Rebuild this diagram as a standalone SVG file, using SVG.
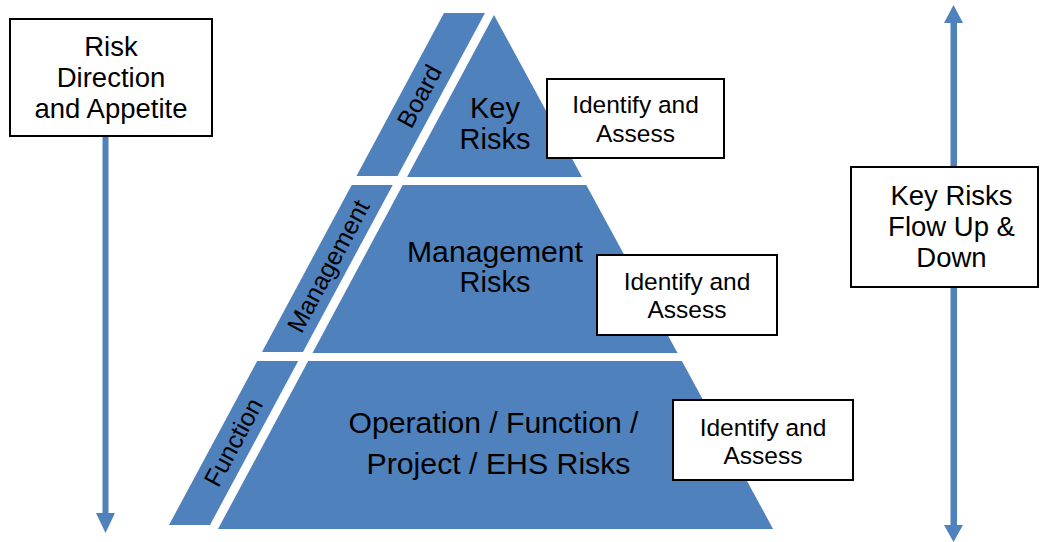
<svg xmlns="http://www.w3.org/2000/svg" width="1044" height="542" viewBox="0 0 1044 542">
  <defs>
    <style>
      .band { fill: #4F81BD; }
      .box { fill: #FFFFFF; stroke: #000000; stroke-width: 2; }
      .t { font-family: "Liberation Sans", Arial, sans-serif; fill: #000000; text-anchor: middle; }
      .pt { font-size: 29px; }
      .bt { font-size: 24.5px; }
      .st { font-size: 27.5px; }
      .lt { font-size: 25px; }
      .arrow { fill: #4F81BD; }
    </style>
  </defs>
  <rect width="1044" height="542" fill="#FFFFFF"/>

  <g id="connectors">
    <g id="arrow-direction">
      <rect class="arrow" x="102.5" y="137" width="6" height="378"/>
      <polygon class="arrow" points="96,513 115,513 105.5,533"/>
    </g>
    <g id="arrow-flow">
      <rect class="arrow" x="950.5" y="20" width="6.5" height="508"/>
      <polygon class="arrow" points="944,23 963,23 953.5,5"/>
      <polygon class="arrow" points="944,525 963,525 953.5,542"/>
    </g>
  </g>

  <g id="band-board-label">
    <polygon class="band" points="444,13 485,13 397.5,176 356.5,176"/>
    <text class="t lt" transform="translate(419,96) rotate(-61.8)" dominant-baseline="central">Board</text>
  </g>
  <g id="band-management-label">
    <polygon class="band" points="351.7,185 392.7,185 303,352 262,352"/>
    <text class="t lt" transform="translate(328,266) rotate(-61.8)" dominant-baseline="central">Management</text>
  </g>
  <g id="band-function-label">
    <polygon class="band" points="257.2,361 298.2,361 210,525 169,525"/>
    <text class="t lt" transform="translate(233,442) rotate(-61.8)" dominant-baseline="central">Function</text>
  </g>

  <g id="key-risks">
    <polygon class="band" points="494,15 582,177 407,177"/>
    <text class="t pt" x="495" y="118">Key</text>
    <text class="t pt" x="495" y="149">Risks</text>
  </g>
  <g id="management-risks">
    <polygon class="band" points="402.7,185 586.3,185 677.5,353 312.5,353"/>
    <text class="t pt" x="495" y="262" textLength="176" lengthAdjust="spacingAndGlyphs">Management</text>
    <text class="t pt" x="495" y="292">Risks</text>
  </g>
  <g id="function-risks">
    <polygon class="band" points="308.2,361 681.9,361 773.1,529 218,529"/>
    <text class="t pt" x="493.5" y="433" textLength="290" lengthAdjust="spacingAndGlyphs">Operation / Function /</text>
    <text class="t pt" x="498.5" y="474" textLength="264" lengthAdjust="spacingAndGlyphs">Project / EHS Risks</text>
  </g>

  <g id="identify-1">
    <rect class="box" x="547" y="79" width="177" height="79"/>
    <text class="t bt" x="635.5" y="113">Identify and</text>
    <text class="t bt" x="635.5" y="142">Assess</text>
  </g>
  <g id="identify-2">
    <rect class="box" x="597" y="255" width="180" height="80"/>
    <text class="t bt" x="687" y="290">Identify and</text>
    <text class="t bt" x="687" y="318">Assess</text>
  </g>
  <g id="identify-3">
    <rect class="box" x="673" y="400" width="180" height="80"/>
    <text class="t bt" x="763" y="436">Identify and</text>
    <text class="t bt" x="763" y="464">Assess</text>
  </g>

  <g id="risk-direction">
    <rect class="box" x="10" y="19" width="202" height="117"/>
    <text class="t st" x="111" y="56">Risk</text>
    <text class="t st" x="111" y="87">Direction</text>
    <text class="t st" x="111" y="118">and Appetite</text>
  </g>

  <g id="key-risks-flow">
    <rect class="box" x="851" y="167" width="187" height="120"/>
    <text class="t st" x="951.5" y="205">Key Risks</text>
    <text class="t st" x="951.5" y="236">Flow Up &amp;</text>
    <text class="t st" x="951.5" y="267">Down</text>
  </g>
</svg>
